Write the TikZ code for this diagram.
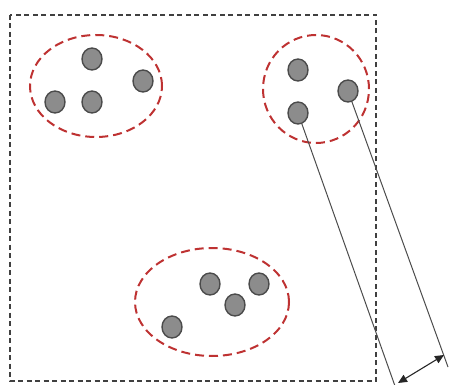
\documentclass[tikz,border=0pt]{standalone}
\usetikzlibrary{shapes.geometric,arrows.meta}
\definecolor{dotfill}{RGB}{140,140,140}
\definecolor{dotline}{RGB}{75,75,75}
\definecolor{clusterred}{RGB}{190,50,50}
\tikzset{
  dot/.style={ellipse, draw=dotline, fill=dotfill, line width=1.4pt, minimum width=20pt, minimum height=22pt, inner sep=0pt},
  cluster/.style={ellipse, draw=clusterred, line width=2pt, dash pattern=on 9pt off 5pt, inner sep=0pt},
  frame/.style={draw=black!75, line width=1.6pt, dash pattern=on 5pt off 3.5pt},
  ray/.style={draw=black!70, line width=1pt},
  gap/.style={draw=black!85, line width=1.1pt, {Triangle[length=9pt,width=8pt]}-{Triangle[length=9pt,width=8pt]}}
}
\begin{document}
\begin{tikzpicture}[x=1pt,y=-1pt]
\useasboundingbox (0,0) rectangle (455,385);
\draw[frame] (10,15) rectangle (376,381);
% clusters
\node[cluster, minimum width=132pt, minimum height=102pt] (cl) at (96,86) {};
\node[cluster, minimum width=106pt, minimum height=108pt] (cr) at (316,89) {};
\node[cluster, minimum width=154pt, minimum height=108pt] (cb) at (212,302) {};
% left dots
\node[dot] (l1) at (92,59) {};
\node[dot] (l2) at (143,81) {};
\node[dot] (l3) at (55,102) {};
\node[dot] (l4) at (92,102) {};
% right dots
\node[dot] (r1) at (298,70) {};
\node[dot] (r2) at (348,91) {};
\node[dot] (r3) at (298,113) {};
% bottom dots
\node[dot] (b1) at (210,284) {};
\node[dot] (b2) at (259,284) {};
\node[dot] (b3) at (235,305) {};
\node[dot] (b4) at (172,327) {};
% rays
\coordinate (e1) at (395,386);
\coordinate (e2) at (448,367);
\draw[ray] (r3) -- (e1);
\draw[ray] (r2) -- (e2);
\coordinate (a1) at (398,383);
\coordinate (a2) at (444,355);
\draw[gap] (a1) -- (a2);
\end{tikzpicture}
\end{document}
